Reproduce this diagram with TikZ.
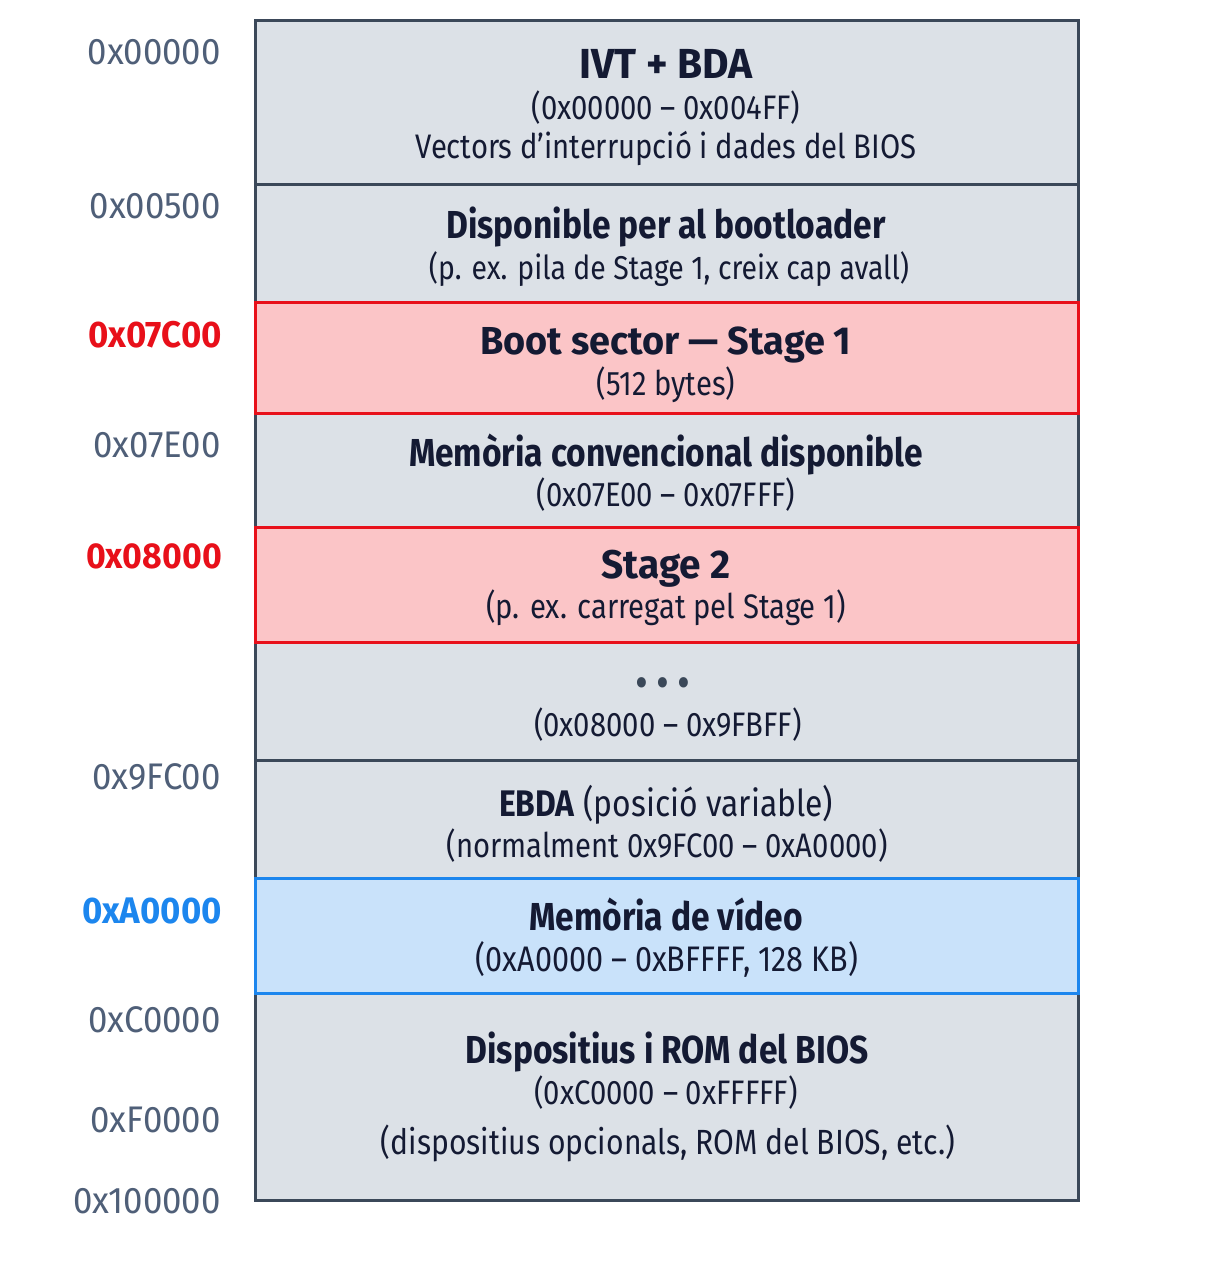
\documentclass[tikz,border=0pt]{standalone}
\usepackage{fontspec}
\setmainfont{Fira Sans}[FakeStretch=0.86]
\newfontfamily\widefont{Fira Sans}[FakeStretch=0.97]
\newfontfamily\addrfont{Fira Sans}[FakeStretch=0.94]
\definecolor{cellfill}{HTML}{DCE1E7}
\definecolor{cellline}{HTML}{3B4859}
\definecolor{addrgray}{HTML}{4F5F78}
\definecolor{redline}{HTML}{E8101A}
\definecolor{redfill}{HTML}{FBC5C7}
\definecolor{blueline}{HTML}{1C86EE}
\definecolor{bluefill}{HTML}{C9E2FA}
\definecolor{txt}{HTML}{141A33}
\begin{document}
\begin{tikzpicture}[x=1pt,y=-1pt,
  cell/.style={draw=cellline,fill=cellfill,line width=3pt,inner sep=0pt,outer sep=0pt,minimum width=823pt},
  redcell/.style={cell,draw=redline,fill=redfill},
  bluecell/.style={cell,draw=blueline,fill=bluefill},
  ttl/.style={anchor=base,inner sep=0pt,text=txt,font=\fontsize{39}{44}\selectfont\bfseries},
  wttl/.style={anchor=base,inner sep=0pt,text=txt,font=\widefont\fontsize{40}{44}\selectfont\bfseries},
  sub/.style={anchor=base,inner sep=0pt,text=txt,font=\fontsize{34}{40}\selectfont},
  addr/.style={anchor=base east,inner sep=0pt,text=addrgray,font=\addrfont\fontsize{37}{42}\selectfont},
  addrred/.style={addr,text=redline,font=\addrfont\fontsize{37}{42}\selectfont\bfseries},
  addrblue/.style={addr,text=blueline,font=\addrfont\fontsize{37}{42}\selectfont\bfseries}]
\useasboundingbox[fill=white] (0,0) rectangle (1227,1282);
% cells
\node[cell,minimum height=164pt] (c1) at (666.5,102) {};
\node[cell,minimum height=118pt] (c2) at (666.5,243) {};
\node[cell,minimum height=114pt] (c4) at (666.5,470) {};
\node[cell,minimum height=118pt] (c6) at (666.5,701) {};
\node[cell,minimum height=118pt] (c7) at (666.5,819) {};
\node[cell,minimum height=207pt] (c9) at (666.5,1096.5) {};
\node[redcell,minimum height=111pt] (c3) at (666.5,357.5) {};
\node[redcell,minimum height=115pt] (c5) at (666.5,584.5) {};
\node[bluecell,minimum height=115pt] (c8) at (666.5,935.5) {};
% texts
\node[wttl,font=\widefont\fontsize{42}{46}\selectfont\bfseries] (t1a) at (666,78) {IVT + BDA};
\node[sub] (t1b) at (666,119) {(0x00000 – 0x004FF)};
\node[sub] (t1c) at (666,158) {Vectors d’interrupció i dades del BIOS};
\node[ttl] (t2a) at (666,238) {Disponible per al bootloader};
\node[sub,font=\fontsize{33}{40}\selectfont] (t2b) at (669,279) {(p. ex. pila de Stage 1, creix cap avall)};
\node[wttl,font=\widefont\fontsize{39}{44}\selectfont\bfseries] (t3a) at (666,354) {Boot sector — Stage 1};
\node[sub] (t3b) at (666,395) {(512 bytes)};
\node[ttl] (t4a) at (666,466) {Memòria convencional disponible};
\node[sub] (t4b) at (666,506) {(0x07E00 – 0x07FFF)};
\node[wttl] (t5a) at (666,578) {Stage 2};
\node[sub] (t5b) at (666,618) {(p. ex. carregat pel Stage 1)};
\node[anchor=base,inner sep=0pt,text=cellline,font=\fontsize{46}{50}\selectfont] (t6a) at (663,698) {•\hspace{8pt}•\hspace{8pt}•};
\node[sub] (t6b) at (668,736) {(0x08000 – 0x9FBFF)};
\node[sub,font=\fontsize{37}{42}\selectfont] (t7a) at (666,816) {\textbf{EBDA} (posició variable)};
\node[sub] (t7b) at (667,857) {(normalment 0x9FC00 – 0xA0000)};
\node[ttl] (t8a) at (666,930) {Memòria de vídeo};
\node[sub,font=\fontsize{35.5}{40}\selectfont] (t8b) at (667,971) {(0xA0000 – 0xBFFFF, 128 KB)};
\node[ttl] (t9a) at (667,1063) {Dispositius i ROM del BIOS};
\node[sub] (t9b) at (666,1104) {(0xC0000 – 0xFFFFF)};
\node[sub,font=\fontsize{35}{40}\selectfont] (t9c) at (668,1154) {(dispositius opcionals, ROM del BIOS, etc.)};
% addresses
\node[addr] (a1) at (221,64) {0x00000};
\node[addr] (a2) at (221,218) {0x00500};
\node[addrred] (a3) at (222,347) {0x07C00};
\node[addr] (a4) at (221,457) {0x07E00};
\node[addrred,font=\addrfont\fontsize{36}{42}\selectfont\bfseries] (a5) at (222,568) {0x08000};
\node[addr] (a6) at (221,789) {0x9FC00};
\node[addrblue] (a7) at (222,923) {0xA0000};
\node[addr] (a8) at (221,1032) {0xC0000};
\node[addr] (a9) at (221,1132) {0xF0000};
\node[addr] (a10) at (221,1213) {0x100000};
\end{tikzpicture}
\end{document}
